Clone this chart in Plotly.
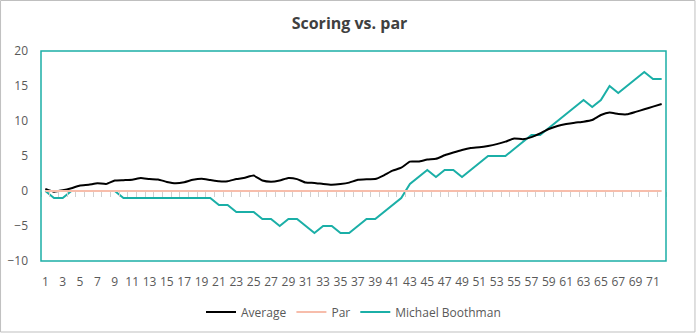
import plotly.graph_objects as go

rounds = list(range(1, 73))
average = [0.3, -0.1, 0.1, 0.4, 0.8, 0.9, 1.1, 1.0, 1.5, 1.55,
           1.6, 1.85, 1.7, 1.65, 1.3, 1.1, 1.25, 1.6, 1.75, 1.57,
           1.4, 1.4, 1.7, 1.9, 2.2, 1.5, 1.33, 1.5, 1.86, 1.7,
           1.2, 1.15, 1.0, 0.9, 1.0, 1.2, 1.6, 1.68, 1.7, 2.24,
           2.9, 3.33, 4.2, 4.2, 4.5, 4.6, 5.1, 5.5, 5.86, 6.14,
           6.24, 6.43, 6.7, 7.05, 7.5, 7.4, 7.7, 8.24, 8.86, 9.29,
           9.57, 9.76, 9.9, 10.14, 10.86, 11.2, 11.0, 10.95, 11.3, 11.67,
           12.05, 12.43]
par = [0] * 72
boothman = [0, -1, -1, 0, 0, 0, 0, 0, 0, -1,
            -1, -1, -1, -1, -1, -1, -1, -1, -1, -1,
            -2, -2, -3, -3, -3, -4, -4, -5, -4, -4,
            -5, -6, -5, -5, -6, -6, -5, -4, -4, -3,
            -2, -1, 1, 2, 3, 2, 3, 3, 2, 3,
            4, 5, 5, 5, 6, 7, 8, 8, 9, 10,
            11, 12, 13, 12, 13, 15, 14, 15, 16, 17,
            16, 16]
xtick_vals = list(range(1, 73, 2))
xtick_text = [str(v) for v in xtick_vals]
ytick_vals = [-10, -5, 0, 5, 10, 15, 20]

TEAL = "#1BAFA7"
PINK = "#F7BDAB"
GRAY_TXT = "#595959"
FONT = "Open Sans"

fig = go.Figure()
fig.add_trace(go.Scatter(x=rounds, y=par, mode="lines", name="Par", xaxis="x2",
                         line=dict(color=PINK, width=2), legendrank=2))
fig.add_trace(go.Scatter(x=rounds, y=boothman, mode="lines", name="Michael Boothman",
                         line=dict(color=TEAL, width=2), legendrank=3))
fig.add_trace(go.Scatter(x=rounds, y=average, mode="lines", name="Average",
                         line=dict(color="#000000", width=2, shape="spline", smoothing=0.4),
                         legendrank=1))

boundaries = [r - 0.5 for r in rounds] + [rounds[-1] + 0.5]

W, H = 699, 333
L, R, T, B = 41, 32.5, 51, 72
pw = W - L - R
ph = H - T - B

fig.update_layout(
    width=W, height=H,
    margin=dict(l=L, r=R, t=T, b=B, autoexpand=False),
    paper_bgcolor="white", plot_bgcolor="white",
    font=dict(family=FONT, size=12, color=GRAY_TXT),
    title=dict(text="<b>Scoring vs. par</b>", x=0.5, xanchor="center",
               y=1 - 23 / H, yanchor="middle",
               font=dict(family=FONT, size=16, color="#404040")),
    showlegend=True,
    legend=dict(orientation="h", x=0.5, xanchor="center", y=-(312 - 261) / ph,
                yanchor="middle", font=dict(family=FONT, size=12, color=GRAY_TXT),
                tracegroupgap=0),
    xaxis=dict(range=[0.5, 72.5], tickmode="array", tickvals=xtick_vals,
               ticktext=xtick_text, showgrid=False, zeroline=False, automargin=False,
               showline=False, ticks="", ticklabelstandoff=12,
               tickfont=dict(size=12, color=GRAY_TXT)),
    xaxis2=dict(range=[0.5, 72.5], overlaying="x", anchor="free", position=10 / 30,
                side="bottom", automargin=False,
                tickmode="array", tickvals=boundaries, showticklabels=False,
                ticks="outside", ticklen=5, tickwidth=1, tickcolor="#D0D0D0",
                showgrid=False, zeroline=False, showline=False),
    yaxis=dict(range=[-10, 20], tickmode="array", tickvals=ytick_vals,
               showgrid=False, zeroline=False, showline=False, ticks="",
               ticklabelstandoff=12, automargin=False,
               tickfont=dict(size=12, color=GRAY_TXT)),
    shapes=[
        dict(type="rect", xref="paper", yref="paper", x0=0, x1=1, y0=0, y1=1,
             line=dict(color=TEAL, width=1.5), layer="above"),
        dict(type="rect", xref="paper", yref="paper",
             x0=(0.5 - L) / pw, x1=(695.5 - L) / pw,
             y0=(T + ph - 332) / ph, y1=(T + ph - 0.5) / ph,
             line=dict(color="#BFBFBF", width=1), layer="below"),
    ],
)

fig.write_html("out.html")
